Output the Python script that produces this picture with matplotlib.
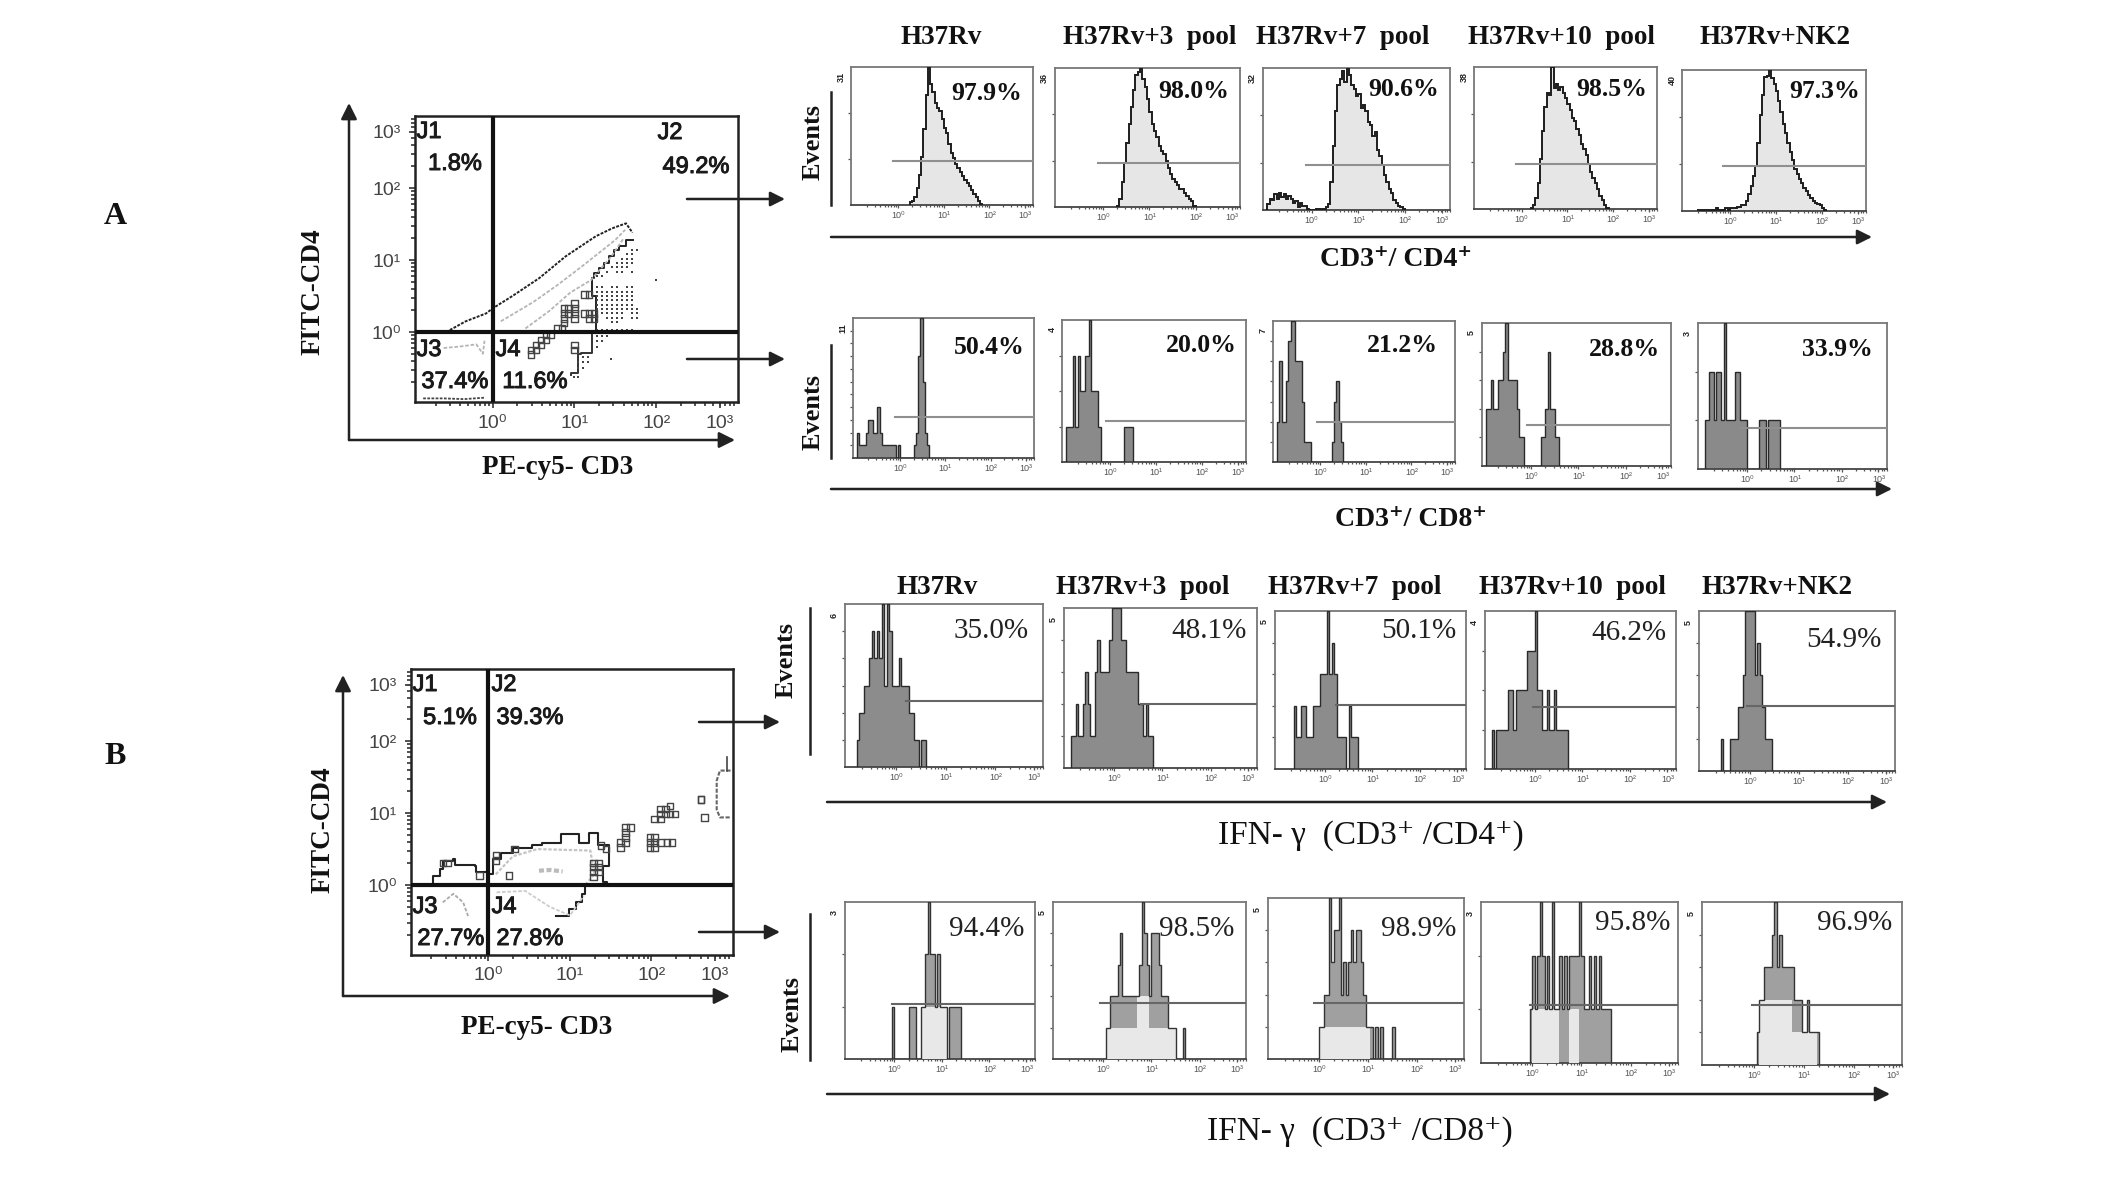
import numpy as np
import matplotlib
matplotlib.use("Agg")
import matplotlib.pyplot as plt
import matplotlib.patheffects as pe
from matplotlib.ticker import LogLocator, NullFormatter

W, H = 2126, 1178
SERIF = ['Liberation Serif', 'DejaVu Serif']
SANS = ['Liberation Sans', 'DejaVu Sans']
BIN = 0.05

# ---------- text ----------
titles = ['H37Rv', 'H37Rv+3  pool', 'H37Rv+7  pool', 'H37Rv+10  pool', 'H37Rv+NK2']
pct_cd4 = ['97.9%', '98.0%', '90.6%', '98.5%', '97.3%']
pct_cd8 = ['50.4%', '20.0%', '21.2%', '28.8%', '33.9%']
pct_ifn4 = ['35.0%', '48.1%', '50.1%', '46.2%', '54.9%']
pct_ifn8 = ['94.4%', '98.5%', '98.9%', '95.8%', '96.9%']

# ---------- histogram data: first bin (log10) and counts per bin ----------
r1_start = [0.25, 0.30, -0.95, 0.20, -0.70]
r1_counts = [
    [2,3,6,12,22,35,55,80,100,88,82,74,70,68,62,56,52,44,38,34,30,27,24,21,18,16,14,11,8,6,3,1],
    [1,6,18,32,46,60,72,84,95,97,100,92,86,78,68,60,55,50,44,40,38,33,28,24,20,18,16,13,13,10,8,6,4,1],
    [4,8,7,11,8,12,9,11,8,10,8,5,6,2,5,3,3,1,0,0,0,1,1,0,1,2,4,20,45,70,88,92,98,90,100,95,88,85,80,82,72,74,70,62,60,52,55,42,38,32,25,20,15,12,7,5,3,2,1],
    [1,3,8,18,35,55,72,82,80,100,85,88,84,86,82,78,74,70,64,62,56,52,46,42,38,32,26,22,18,14,9,6,3,1],
    [1,0,1,1,1,1,1,1,2,1,1,1,2,1,2,2,2,3,3,4,4,7,12,18,25,32,48,68,82,95,96,100,94,90,85,78,70,62,55,48,42,36,30,26,23,20,16,14,11,9,7,6,5,4,2,1],
]
r1_ymax = [100, 100, 100, 100, 100]
r1_ylab = ['31', '36', '32', '38', '40']
r1_gate_x = [-0.12, -0.12, -0.12, -0.13, -0.14]
r1_gate_y = [32, 32, 32, 32, 32]

r2_start = [-0.95, -0.95, -0.95, -0.95, -0.90]
r2_counts = [
    [2,1,1,1,2,3,3,2,2,4,2,1,1,1,1,1,1,0,1,0,0,0,0,0,0,1,2,8,11,6,2,1],
    [1,1,1,3,1,3,2,2,3,3,4,2,2,2,1,0,0,0,0,0,0,0,0,0,0,1,1,1,1],
    [2,5,2,2,4,6,7,7,5,5,5,3,1,1,1,0,0,0,0,0,0,0,0,0,1,3,4,2,1],
    [2,2,3,2,2,3,3,4,5,3,3,3,3,2,1,1,0,0,0,0,0,0,0,1,1,2,4,2,2,1,1],
    [1,1,2,2,1,2,2,1,3,1,1,1,1,2,2,1,1,1,0,0,0,0,0,1,1,1,0,1,1,1,1,1],
]
r2_ymax = [11, 4, 7, 5, 3]
r2_ylab = ['11', '4', '7', '5', '3']
r2_gate_x = [-0.11, -0.08, -0.08, -0.08, -0.12]
r2_gate_y = [3.2, 1.15, 2.0, 1.42, 0.84]

r3_start = [-0.80, -0.90, -0.65, -0.90, -0.60]
r3_counts = [
    [1,2,2,3,3,4,5,4,5,4,6,3,6,5,3,3,3,4,3,3,3,2,2,1,1,0,1,1],
    [1,1,2,1,1,2,3,2,1,1,3,4,3,3,3,3,4,5,5,5,5,4,4,3,3,3,3,3,2,2,1,2,1,1],
    [2,1,1,2,2,1,1,1,2,2,2,3,3,3,5,3,4,3,1,1,1,1,0,2,1,1,1],
    [1,0,1,1,1,1,1,2,2,1,2,2,2,2,2,3,3,3,4,2,2,1,1,2,1,1,2,1,1,1,1,1],
    [1,0,0,0,1,1,1,2,2,3,5,5,5,5,3,4,3,2,1,1,1],
]
r3_ymax = [6, 5, 5, 4, 5]
r3_ylab = ['6', '5', '5', '4', '5']
r3_gate_x = [0.20, 0.56, 0.24, -0.04, -0.07]
r3_gate_y = [2.44, 2.0, 2.04, 1.58, 2.02]

r4_start = [-0.05, 0.05, 0.0, -0.05, 0.05]
r4_counts = [
    [1,0,0,0,0,0,0,1,1,1,0,0,1,1,2,3,2,2,1,2,1,1,1,0,1,1,1,1,1],
    [1,1,2,2,2,3,4,2,2,2,2,2,2,2,3,5,4,3,2,4,4,4,3,2,2,2,1,1,1,0,0,0,1],
    [1,1,2,2,5,3,4,4,5,2,3,2,3,4,3,4,4,3,2,1,1,1,0,1,0,1,0,0,0,0,1],
    [1,2,1,2,3,2,1,2,1,3,1,1,2,1,2,1,2,2,2,2,3,2,1,1,2,1,2,1,2,1,1,1,1],
    [1,2,2,3,3,3,4,5,3,4,3,3,3,3,3,2,2,2,1,1,2,1,1,1,1],
]
r4_light = [
    [0,0,0,0,0,0,0,0,0,0,0,0,1,1,1,1,1,1,1,1,1,1,1,0,0,0,0,0,0],
    [1,1,1,1,1,1,1,1,1,1,1,1,1,2,2,2,2,2,1,1,1,1,1,1,1,1,1,1,1,0,0,0,0],
    [1,1,1,1,1,1,1,1,1,1,1,1,1,1,1,1,1,1,1,1,1,0,0,0,0,0,0,0,0,0,0],
    [0,1,1,1,1,1,1,1,1,1,1,1,0,0,0,0,1,1,1,1,0,0,0,0,0,0,0,0,0,0,0,0,0],
    [0,2,2,2,2,2,2,2,2,2,2,2,2,2,1,1,1,1,1,1,1,1,1,1,0],
]
r4_ymax = [3, 5, 5, 3, 5]
r4_ylab = ['3', '5', '5', '3', '5']
r4_gate_x = [-0.06, -0.07, -0.10, -0.04, -0.05]
r4_gate_y = [1.06, 1.77, 1.73, 1.08, 1.83]

# ---------- dot plot A (log10 coordinates) ----------
a_up_x = [-0.57,-0.33,-0.08,0,0.24,0.57,0.89,1.26,1.46,1.63,1.71]
a_up_y = [0,0.15,0.26,0.33,0.50,0.75,1.05,1.33,1.44,1.51,1.38]
a_low_x = [1.71,1.63,1.54,1.48,1.42,1.36,1.30,1.24,1.22,1.22,1.26,1.26]
a_low_y = [1.28,1.19,1.14,1.05,0.96,0.89,0.82,0.75,0.59,0.50,0.36,0.03]
a_low2_x = [1.22,1.22,1.08,1.04,1.04,0.96]
a_low2_y = [-0.04,-0.29,-0.31,-0.25,-0.57,-0.59]
a_in1_x = [0.1,0.5,0.8,1.1,1.5,1.62]
a_in1_y = [0.15,0.42,0.66,0.92,1.28,1.42]
a_in2_x = [0.4,0.7,0.95,1.2,1.45,1.6]
a_in2_y = [0.05,0.30,0.55,0.72,1.05,1.30]
a_in3_x = [-0.6,-0.4,-0.2,-0.12,-0.1]
a_in3_y = [-0.22,-0.2,-0.17,-0.3,-0.12]
a_in4_x = [-0.85,-0.6,-0.35,-0.1]
a_in4_y = [-0.92,-0.92,-0.93,-0.91]
a_sq_x = [1.12,1.18,1.00,0.87,0.93,1.00,0.87,0.93,1.00,1.12,1.18,1.24,0.87,1.00,1.18,1.24,0.87,0.79,0.85,0.65,0.71,0.59,0.65,0.53,0.59,0.47,0.53,0.47,1.00,1.00]
a_sq_y = [0.52,0.52,0.40,0.33,0.33,0.33,0.26,0.26,0.26,0.26,0.26,0.26,0.19,0.19,0.19,0.19,0.125,0.055,0.055,-0.04,-0.04,-0.11,-0.11,-0.18,-0.18,-0.25,-0.25,-0.31,-0.18,-0.25]
a_dot_x = [1.28,1.34,1.40,1.46,1.52,1.58,1.64,1.70,1.76]
a_dot_y = [1.14,1.08,1.02,0.96,0.90,0.84,0.78,0.62,0.56,0.50,0.44,0.38,0.32,0.26,0.20,0.14,0.08,0.03]
a_dot_mask = ["000000011","000000110","000001110","000011110","000111100","001011010","110000000",
              "110110110","111111110","111111110","111111110","111111110","111111111","111111011",
              "101111011","100110000","000000000","111111110"]
a_dot2_x = [1.28,1.34,1.40,1.28,1.34,1.28,1.10,1.16,1.04,1.10,1.16,1.04,1.10,1.00,1.04,2.0,1.45]
a_dot2_y = [-0.06,-0.06,-0.06,-0.12,-0.12,-0.20,-0.34,-0.34,-0.42,-0.42,-0.42,-0.50,-0.50,-0.62,-0.62,0.72,-0.37]

# ---------- dot plot B (log10 coordinates) ----------
b_up_x = [-0.68,-0.68,-0.60,-0.56,-0.43,-0.41,-0.25,-0.17,-0.15,-0.01,0.05,0.05,0.15,0.30,0.54,0.66,0.85,0.89,1.07,1.11,1.19,1.23,1.35,1.35,1.48,1.48,1.41,1.41,1.46]
b_up_y = [0.01,0.13,0.22,0.34,0.36,0.28,0.28,0.27,0.18,0.15,0.22,0.36,0.45,0.52,0.55,0.59,0.59,0.71,0.71,0.59,0.59,0.73,0.69,0.55,0.50,0.27,0.27,0.04,0.01]
b_low_x = [0.83,0.99,1.07,1.15,1.19]
b_low_y = [-0.43,-0.33,-0.24,-0.12,-0.01]
b_grey1_x = [0.09,0.3,0.6,1.25,1.30,1.20]
b_grey1_y = [0.15,0.40,0.50,0.48,0.15,0.02]
b_grey2_x = [-0.56,-0.43,-0.31,-0.25]
b_grey2_y = [-0.24,-0.12,-0.24,-0.43]
b_grey3_x = [0.1,0.45,0.75,1.0,1.17]
b_grey3_y = [-0.1,-0.08,-0.3,-0.42,-0.15]
b_grey4_x = [0.62,0.76,0.91]
b_grey4_y = [0.20,0.21,0.19]
b_blob_x = [2.97,2.84,2.80,2.80,2.84,2.97]
b_blob_y = [1.59,1.59,1.45,1.05,0.94,0.94]
b_spike_x = [2.93,2.93]
b_spike_y = [1.59,1.78]
b_sq_x = [1.68,1.74,1.68,1.68,1.62,1.68,1.62,2.11,2.17,2.23,2.11,2.17,2.04,2.11,2.23,2.29,1.98,2.04,1.98,2.04,2.11,1.98,2.04,2.19,2.25,2.61,2.65,2.61,1.29,1.35,1.29,1.35,1.29,1.35,1.29,0.09,0.09,0.32,-0.56,-0.50,-0.11,0.25,1.38,1.44]
b_sq_y = [0.80,0.80,0.73,0.66,0.59,0.59,0.52,1.06,1.06,1.10,0.99,0.99,0.92,0.92,0.99,0.99,0.66,0.66,0.59,0.59,0.59,0.52,0.52,0.59,0.59,1.19,0.94,1.19,0.31,0.31,0.25,0.25,0.18,0.18,0.11,0.41,0.34,0.50,0.31,0.31,0.13,0.13,0.55,0.50]

plt.rcParams['font.family'] = SERIF
fig = plt.figure(figsize=(W / 100, H / 100), dpi=100, facecolor='white')


def box_axes(b):
    x0, y0, x1, y1 = b
    return fig.add_axes([x0 / W, 1 - y1 / H, (x1 - x0) / W, (y1 - y0) / H])


def log_ticks(axis, size, color, length, width, pad, family):
    axis.set_major_locator(plt.FixedLocator([1, 10, 100, 10 ** 2.78]))
    axis.set_major_formatter(plt.FixedFormatter(['10⁰', '10¹', '10²', '10³']))
    axis.set_minor_locator(LogLocator(base=10, subs=range(2, 10), numticks=20))
    axis.set_minor_formatter(NullFormatter())
    axis.set_tick_params(which='major', length=length + 1, width=width, color=color,
                         labelsize=size, labelcolor=color, pad=pad)
    axis.set_tick_params(which='minor', length=length, width=width, color=color)
    for t_ in axis.get_ticklabels():
        t_.set_family(family)


def hist_panel(b, start, counts, ymax, ylab, gx, gy, fill, edge, gate, light=None, elw=1.0):
    ax = box_axes(b)
    edges = 10 ** (start + BIN * np.arange(len(counts) + 1))
    ax.stairs(counts, edges, fill=True, color=fill, zorder=2)
    if light is not None:
        ax.stairs(light, edges, fill=True, color='#e8e8e8', zorder=3)
    ax.stairs(counts, edges, baseline=0, color=edge, lw=elw, zorder=4)
    ax.plot([10 ** gx, 10 ** 2.96], [gy, gy], color=gate, lw=1.5, zorder=5)
    ax.set_xscale('log')
    ax.set_xlim(10 ** -1.04, 10 ** 2.96)
    ax.set_ylim(0, ymax)
    log_ticks(ax.xaxis, 6.5, '#555555', 1.5, 0.9, 2, SANS)
    step = ymax / 3 if ymax == 100 else 1
    ax.set_yticks(np.arange(step, ymax * 0.999, step))
    ax.set_yticklabels([])
    ax.tick_params(axis='y', length=2, width=0.9, color='#555555')
    for s in ax.spines.values():
        s.set_color('#777777')
        s.set_linewidth(1.3)
    ax.spines['bottom'].set_color('#444444')
    ax.text(-0.055, 0.93, ylab, transform=ax.transAxes, rotation=90, fontsize=6.5,
            family=SANS, ha='center', va='center', color='#222222', weight='bold')
    return ax


def dot_axes(b):
    ax = box_axes(b)
    ax.set_xscale('log')
    ax.set_yscale('log')
    ax.set_xlim(10 ** -0.95, 10 ** 3.0)
    ax.set_ylim(10 ** -0.97, 10 ** 3.0)
    log_ticks(ax.xaxis, 14, '#444444', 3, 1.3, 5, SANS)
    log_ticks(ax.yaxis, 14, '#444444', 3, 1.3, 6, SANS)
    for s in ax.spines.values():
        s.set_color('#222222')
        s.set_linewidth(1.8)
    ax.axhline(1, color='#111111', lw=3.0, zorder=6)
    ax.axvline(1, color='#111111', lw=3.0, zorder=6)
    return ax


def line(ax, x, y, **kw):
    ax.plot(10 ** np.array(x, float), 10 ** np.array(y, float), **kw)


def squares(ax, x, y):
    ax.scatter(10 ** np.array(x, float), 10 ** np.array(y, float), marker='s', s=22,
               facecolors='none', edgecolors='#444444', linewidths=1.0, zorder=4)


# ---------- dot plot A ----------
axA = dot_axes((415, 116, 738, 402))
line(axA, a_up_x, a_up_y, color='#222222', lw=1.4, ls=(0, (1.5, 0.7)))
line(axA, a_low_x, a_low_y, color='#222222', lw=1.4, drawstyle='steps-post')
line(axA, a_low2_x, a_low2_y, color='#333333', lw=1.4, drawstyle='steps-post')
for xs, ys in [(a_in1_x, a_in1_y), (a_in2_x, a_in2_y), (a_in3_x, a_in3_y)]:
    line(axA, xs, ys, color='#b5b5b5', lw=1.3, ls=(0, (2, 1)))
line(axA, a_in4_x, a_in4_y, color='#444444', lw=1.3, ls=(0, (1.5, 0.8)))
squares(axA, a_sq_x, a_sq_y)
dx, dy = [], []
for yv, row in zip(a_dot_y, a_dot_mask):
    for xv, m in zip(a_dot_x, row):
        if m == '1':
            dx.append(xv)
            dy.append(yv)
dx += a_dot2_x
dy += a_dot2_y
axA.scatter(10 ** np.array(dx), 10 ** np.array(dy), marker='s', s=3.5, color='#444444', linewidths=0, zorder=3)

# ---------- dot plot B ----------
axB = dot_axes((411, 669, 733, 955))
line(axB, b_up_x, b_up_y, color='#222222', lw=1.5, drawstyle='steps-post')
line(axB, b_low_x, b_low_y, color='#222222', lw=1.5, drawstyle='steps-post')
line(axB, b_grey1_x, b_grey1_y, color='#c4c4c4', lw=1.6, ls=(0, (1.5, 0.8)))
line(axB, b_grey2_x, b_grey2_y, color='#aaaaaa', lw=1.3, ls=(0, (2, 1)))
line(axB, b_grey3_x, b_grey3_y, color='#cccccc', lw=1.3, ls=(0, (2, 1)))
line(axB, b_grey4_x, b_grey4_y, color='#bbbbbb', lw=3.0, ls=(0, (1.2, 0.6)))
line(axB, b_blob_x, b_blob_y, color='#666666', lw=1.5, ls=(0, (2, 0.8)))
line(axB, b_spike_x, b_spike_y, color='#444444', lw=1.2)
squares(axB, b_sq_x, b_sq_y)

# ---------- histogram panels ----------
boxes1 = [(851, 67, 1033, 205), (1055, 68, 1240, 207), (1263, 68, 1450, 210), (1474, 67, 1657, 209), (1682, 70, 1866, 211)]
boxes2 = [(853, 318, 1034, 458), (1062, 320, 1246, 462), (1273, 321, 1455, 462), (1482, 323, 1671, 466), (1698, 323, 1887, 469)]
boxes3 = [(845, 604, 1043, 767), (1064, 608, 1257, 768), (1275, 611, 1466, 769), (1485, 611, 1676, 769), (1699, 611, 1895, 771)]
boxes4 = [(845, 902, 1035, 1059), (1053, 902, 1246, 1059), (1268, 898, 1464, 1059), (1481, 902, 1678, 1063), (1702, 902, 1902, 1065)]
for i in range(5):
    hist_panel(boxes1[i], r1_start[i], r1_counts[i], r1_ymax[i], r1_ylab[i], r1_gate_x[i], r1_gate_y[i], '#e6e6e6', '#1e1e1e', '#8f8f8f', elw=1.4)
    hist_panel(boxes2[i], r2_start[i], r2_counts[i], r2_ymax[i], r2_ylab[i], r2_gate_x[i], r2_gate_y[i], '#8a8a8a', '#2a2a2a', '#8f8f8f')
    hist_panel(boxes3[i], r3_start[i], r3_counts[i], r3_ymax[i], r3_ylab[i], r3_gate_x[i], r3_gate_y[i], '#8c8c8c', '#2a2a2a', '#666666')
    hist_panel(boxes4[i], r4_start[i], r4_counts[i], r4_ymax[i], r4_ylab[i], r4_gate_x[i], r4_gate_y[i], '#a0a0a0', '#333333', '#666666', light=r4_light[i])

# ---------- overlay in pixel coordinates ----------
ov = fig.add_axes([0, 0, 1, 1], zorder=10)
ov.set_xlim(0, W)
ov.set_ylim(H, 0)
ov.axis('off')
ov.patch.set_alpha(0)


def arrow(x0, y0, x1, y1, lw=1.8, ms=22, color='#222222'):
    ov.annotate('', xy=(x1, y1), xytext=(x0, y0),
                arrowprops=dict(arrowstyle='-|>', lw=lw, color=color, mutation_scale=ms, shrinkA=0, shrinkB=0))


def t(x, y, s, size, weight='normal', ha='center', family=SERIF, rot=0, color='#111111', stroke=0):
    txt = ov.text(x, y, s, fontsize=size, weight=weight, ha=ha, va='center', family=family, rotation=rot, color=color)
    if stroke:
        txt.set_path_effects([pe.withStroke(linewidth=stroke, foreground=color)])


t(115, 217, 'A', 23, 'bold')
t(115, 757, 'B', 23, 'bold')

# dot plot frames
arrow(349, 440, 349, 103, ms=24)
arrow(349, 440, 735, 440, ms=24)
arrow(343, 996, 343, 675, ms=24)
arrow(343, 996, 730, 996, ms=24)
arrow(687, 199, 785, 199)
arrow(687, 359, 785, 359)
arrow(699, 722, 780, 722)
arrow(699, 932, 780, 932)

t(313, 292, 'FITC-CD4', 19.5, 'bold', rot=90)
t(558, 468, 'PE-cy5- CD3', 19.5, 'bold')
t(323, 830, 'FITC-CD4', 19.5, 'bold', rot=90)
t(537, 1027, 'PE-cy5- CD3', 19.5, 'bold')

labA = [(429, 132, 'J1'), (455, 164, '1.8%'), (670, 133, 'J2'), (696, 167, '49.2%'),
        (429, 350, 'J3'), (455, 382, '37.4%'), (508, 350, 'J4'), (535, 382, '11.6%')]
labB = [(425, 685, 'J1'), (450, 718, '5.1%'), (504, 685, 'J2'), (530, 718, '39.3%'),
        (425, 907, 'J3'), (451, 939, '27.7%'), (504, 907, 'J4'), (530, 939, '27.8%')]
for x, y, s in labA + labB:
    t(x, y, s, 17, family=SANS, color='#1a1a1a', stroke=0.7)

# right-hand block
tx1 = [941, 1150, 1343, 1561, 1775]
tx3 = [937, 1143, 1355, 1572, 1777]
for x, s in zip(tx1, titles):
    t(x, 38, s, 19.5, 'bold')
for x, s in zip(tx3, titles):
    t(x, 588, s, 19.5, 'bold')

p1 = [(1022, 93), (1229, 92), (1439, 90), (1647, 89), (1860, 92)]
p2 = [(1025, 347), (1237, 345), (1438, 345), (1660, 350), (1873, 350)]
p3 = [(1029, 631), (1247, 631), (1456, 631), (1666, 633), (1882, 640)]
p4 = [(1024, 929), (1234, 929), (1456, 929), (1670, 923), (1892, 923)]
for i in range(5):
    t(p1[i][0], p1[i][1], pct_cd4[i], 18.5, 'bold', ha='right')
    t(p2[i][0], p2[i][1], pct_cd8[i], 18.5, 'bold', ha='right')
    t(p3[i][0], p3[i][1], pct_ifn4[i], 21, ha='right', color='#222222')
    t(p4[i][0], p4[i][1], pct_ifn8[i], 21, ha='right', color='#222222')

arrow(831, 237, 1872, 237)
arrow(831, 489, 1892, 489)
arrow(827, 802, 1887, 802)
arrow(827, 1094, 1890, 1094)
for x, y0, y1 in [(831, 92, 205), (831, 345, 458), (810, 608, 754), (810, 914, 1060)]:
    ov.plot([x, x], [y0, y1], color='#222222', lw=1.8)
t(813, 142, 'Events', 19, 'bold', rot=90)
t(813, 412, 'Events', 19, 'bold', rot=90)
t(786, 660, 'Events', 19, 'bold', rot=90)
t(792, 1014, 'Events', 19, 'bold', rot=90)

t(1396, 260, 'CD3⁺/ CD4⁺', 20, 'bold')
t(1411, 519, 'CD3⁺/ CD8⁺', 20, 'bold')
t(1371, 836, 'IFN- γ  (CD3⁺ /CD4⁺)', 24)
t(1360, 1132, 'IFN- γ  (CD3⁺ /CD8⁺)', 24)

fig.savefig('out.png', dpi=100, facecolor='white')
